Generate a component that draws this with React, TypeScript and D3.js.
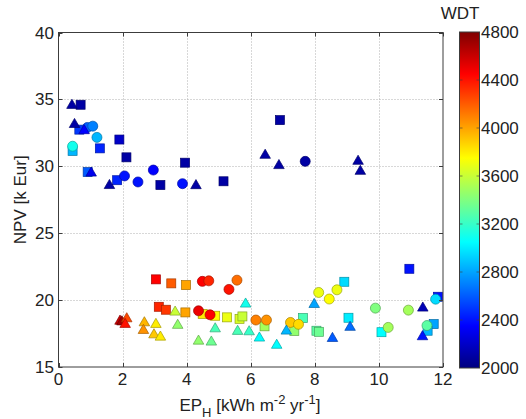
import React, { useRef, useEffect } from 'react';
import * as d3 from 'd3';

// [EP_H, NPV, WDT] per marker shape
const circles: [number, number, number][] = [
  [0.44, 31.5, 3100], [0.9, 32.9, 2600], [1.07, 33.0, 2700], [1.2, 32.16, 2850],
  [2.06, 29.28, 2400], [2.48, 28.83, 2400], [2.96, 29.72, 2350], [3.87, 28.7, 2400],
  [7.7, 30.37, 2100], [4.49, 21.4, 4450], [4.69, 21.44, 4350], [4.37, 19.2, 4500],
  [4.73, 18.9, 4450], [5.32, 20.8, 4400], [5.57, 21.49, 4150], [6.16, 18.51, 4100],
  [6.49, 18.51, 4050], [7.24, 18.33, 3900], [7.49, 18.19, 3850], [8.12, 20.57, 3700],
  [8.45, 20.08, 3750], [8.69, 20.77, 3700], [9.89, 19.4, 3400], [10.92, 19.25, 3500],
  [11.77, 20.07, 2950], [10.29, 17.96, 3500], [11.5, 18.1, 3300],
];

const squares: [number, number, number][] = [
  [0.69, 34.6, 2100], [0.65, 32.74, 2500], [1.9, 32.0, 2200], [1.29, 31.34, 2450],
  [0.44, 31.15, 2850], [2.12, 30.67, 2100], [0.91, 29.57, 2600], [1.83, 28.96, 2450],
  [3.18, 28.6, 2100], [3.95, 30.27, 2100], [5.15, 28.88, 2100], [6.91, 33.45, 2100],
  [3.04, 21.55, 4450], [3.52, 21.25, 4200], [3.98, 21.12, 4000], [3.13, 19.5, 4350],
  [3.35, 19.28, 4300], [3.96, 19.08, 4000], [4.5, 18.96, 3800], [4.89, 18.83, 3750],
  [5.26, 18.71, 3700], [5.65, 18.6, 3650], [5.74, 18.78, 3600], [6.43, 18.04, 3500],
  [7.36, 17.69, 3450], [7.63, 18.66, 3250], [8.05, 17.71, 3300], [8.13, 17.63, 3350],
  [8.92, 21.37, 2950], [9.05, 18.68, 3000], [10.08, 17.6, 3050], [10.95, 22.34, 2400],
  [11.84, 20.25, 2400], [11.71, 18.21, 2800], [11.52, 17.71, 2850],
];

const triangles: [number, number, number][] = [
  [0.42, 34.63, 2100], [0.5, 33.2, 2100], [0.8, 32.74, 2350], [1.02, 29.57, 2300],
  [1.59, 28.64, 2100], [4.29, 28.63, 2100], [6.45, 30.9, 2100], [6.88, 30.13, 2100],
  [9.35, 30.45, 2100], [9.42, 29.7, 2100], [1.92, 18.5, 4600], [1.98, 18.45, 4700],
  [2.13, 18.68, 4250], [2.08, 18.26, 4400], [2.68, 18.38, 3950], [2.65, 17.81, 4050],
  [3.04, 18.26, 3800], [2.98, 17.48, 3900], [3.18, 17.31, 3800], [3.64, 19.18, 3600],
  [3.72, 18.19, 3450], [4.37, 17.01, 3450], [4.77, 16.94, 3350], [4.89, 17.93, 3250],
  [5.84, 19.78, 3100], [5.59, 17.74, 3250], [5.95, 17.71, 3200], [6.27, 17.24, 3050],
  [6.81, 16.7, 3050], [7.11, 17.76, 2850], [7.98, 19.75, 2800], [8.55, 17.21, 2600],
  [9.1, 18.04, 2650], [11.37, 19.48, 2150], [11.36, 17.34, 2400],
];

const xTicks = [0, 2, 4, 6, 8, 10, 12];
const yTicks = [15, 20, 25, 30, 35, 40];
const cbTicks = [2000, 2400, 2800, 3200, 3600, 4000, 4400, 4800];

// MATLAB jet colormap
const jet = (t: number) => {
  const c = (v: number) => Math.round(255 * Math.max(0, Math.min(1, v)));
  const r = c(1.5 - Math.abs(4 * t - 3));
  const g = c(1.5 - Math.abs(4 * t - 2));
  const b = c(1.5 - Math.abs(4 * t - 1));
  return `rgb(${r},${g},${b})`;
};

const W = 526, H = 419;
const FONT = 'Liberation Sans, Arial, sans-serif';

const App = () => {
  const svgRef = useRef<SVGSVGElement>(null);

  useEffect(() => {
    const svg = d3.select(svgRef.current);
    svg.selectAll('*').remove();

    const x = d3.scaleLinear().domain([0, 12]).range([58.5, 443]);
    const y = d3.scaleLinear().domain([15, 40]).range([367, 32.5]);
    const cScale = d3.scaleLinear().domain([2000, 4800]).range([0, 1]).clamp(true);
    const color = (v: number) => jet(cScale(v));

    const [x0, x1] = x.range();
    const [y0, y1] = y.range();

    // grid
    const grid = svg.append('g')
      .attr('stroke', '#b0b0b0')
      .attr('stroke-width', 1)
      .attr('stroke-dasharray', '1,2');
    grid.selectAll('.gx').data(xTicks.slice(1, -1)).enter().append('line')
      .attr('x1', d => Math.round(x(d)) + 0.5).attr('x2', d => Math.round(x(d)) + 0.5)
      .attr('y1', y1).attr('y2', y0);
    grid.selectAll('.gy').data(yTicks.slice(1, -1)).enter().append('line')
      .attr('y1', d => Math.round(y(d)) + 0.5).attr('y2', d => Math.round(y(d)) + 0.5)
      .attr('x1', x0).attr('x2', x1);

    // markers
    const edge = (v: number) => d3.color(color(v))!.darker(1.2).formatHex();
    const sz = 9;
    svg.append('g').selectAll('rect').data(squares).enter().append('rect')
      .attr('x', d => x(d[0]) - sz / 2).attr('y', d => y(d[1]) - sz / 2)
      .attr('width', sz).attr('height', sz)
      .attr('fill', d => color(d[2]))
      .attr('stroke', d => edge(d[2])).attr('stroke-width', 0.7);
    svg.append('g').selectAll('circle').data(circles).enter().append('circle')
      .attr('cx', d => x(d[0])).attr('cy', d => y(d[1])).attr('r', 5)
      .attr('fill', d => color(d[2]))
      .attr('stroke', d => edge(d[2])).attr('stroke-width', 0.7);
    const tri = d3.symbol().type(d3.symbolTriangle).size(48);
    svg.append('g').selectAll('path').data(triangles).enter().append('path')
      .attr('d', tri)
      .attr('transform', d => `translate(${x(d[0])},${y(d[1]) + 1})`)
      .attr('fill', d => color(d[2]))
      .attr('stroke', d => edge(d[2])).attr('stroke-width', 0.7);

    // box
    svg.append('rect')
      .attr('x', x0).attr('y', y1).attr('width', x1 - x0).attr('height', y0 - y1)
      .attr('fill', 'none').attr('stroke', '#3c3c3c').attr('stroke-width', 1);

    // inward ticks
    const ticks = svg.append('g').attr('stroke', '#3c3c3c').attr('stroke-width', 1);
    xTicks.forEach(t => {
      const px = Math.round(x(t)) + 0.5;
      ticks.append('line').attr('x1', px).attr('x2', px).attr('y1', y0).attr('y2', y0 - 4);
      ticks.append('line').attr('x1', px).attr('x2', px).attr('y1', y1).attr('y2', y1 + 4);
    });
    yTicks.forEach(t => {
      const py = Math.round(y(t)) + 0.5;
      ticks.append('line').attr('x1', x0).attr('x2', x0 + 4).attr('y1', py).attr('y2', py);
      ticks.append('line').attr('x1', x1).attr('x2', x1 - 4).attr('y1', py).attr('y2', py);
    });

    // tick labels
    const labels = svg.append('g').style('font-family', FONT).style('font-size', '17px').attr('fill', '#222');
    labels.selectAll('.xl').data(xTicks).enter().append('text')
      .attr('x', d => x(d)).attr('y', 385).attr('text-anchor', 'middle').text(d => d);
    labels.selectAll('.yl').data(yTicks).enter().append('text')
      .attr('x', 54).attr('y', d => y(d) + 6).attr('text-anchor', 'end').text(d => d);

    // axis titles
    const xl = svg.append('text').attr('x', 250).attr('y', 411)
      .attr('text-anchor', 'middle').style('font-family', FONT).style('font-size', '17px').attr('fill', '#222');
    xl.append('tspan').text('EP');
    xl.append('tspan').attr('dy', 6).style('font-size', '13px').text('H');
    xl.append('tspan').attr('dy', -6).text(' [kWh m');
    xl.append('tspan').attr('dy', -7).style('font-size', '13px').text('-2');
    xl.append('tspan').attr('dy', 7).text(' yr');
    xl.append('tspan').attr('dy', -7).style('font-size', '13px').text('-1');
    xl.append('tspan').attr('dy', 7).text(']');

    svg.append('text')
      .attr('transform', `translate(26,${(y0 + y1) / 2})rotate(-90)`)
      .attr('text-anchor', 'middle').style('font-family', FONT).style('font-size', '17px').attr('fill', '#222')
      .text('NPV [k Eur]');

    // colorbar
    const cb = d3.scaleLinear().domain([2000, 4800]).range([368, 32]);
    const cbX = 459.5, cbW = 20;
    const defs = svg.append('defs');
    const grad = defs.append('linearGradient').attr('id', 'jetGrad')
      .attr('x1', 0).attr('y1', 1).attr('x2', 0).attr('y2', 0);
    d3.range(0, 1.0001, 1 / 64).forEach(t => {
      grad.append('stop').attr('offset', t).attr('stop-color', jet(t));
    });
    svg.append('rect').attr('x', cbX).attr('y', cb(4800)).attr('width', cbW)
      .attr('height', cb(2000) - cb(4800)).attr('fill', 'url(#jetGrad)')
      .attr('stroke', '#3c3c3c').attr('stroke-width', 1);
    const cbTickG = svg.append('g').attr('stroke', '#3c3c3c').attr('stroke-opacity', 0.6);
    cbTicks.slice(1, -1).forEach(t => {
      cbTickG.append('line').attr('x1', cbX).attr('x2', cbX + 3).attr('y1', cb(t)).attr('y2', cb(t));
      cbTickG.append('line').attr('x1', cbX + cbW).attr('x2', cbX + cbW - 3).attr('y1', cb(t)).attr('y2', cb(t));
    });
    svg.append('g').style('font-family', FONT).style('font-size', '17px').attr('fill', '#222')
      .selectAll('text').data(cbTicks).enter().append('text')
      .attr('x', 481).attr('y', d => cb(d) + 6).text(d => d);

    svg.append('text').attr('x', 460).attr('y', 19).attr('text-anchor', 'middle')
      .style('font-family', FONT).style('font-size', '17px').attr('fill', '#222').text('WDT');
  }, []);

  return (
    <svg ref={svgRef} width={W} height={H}
      style={{ position: 'absolute', left: 0, top: 0, background: '#fff' }} />
  );
};

export default App;
